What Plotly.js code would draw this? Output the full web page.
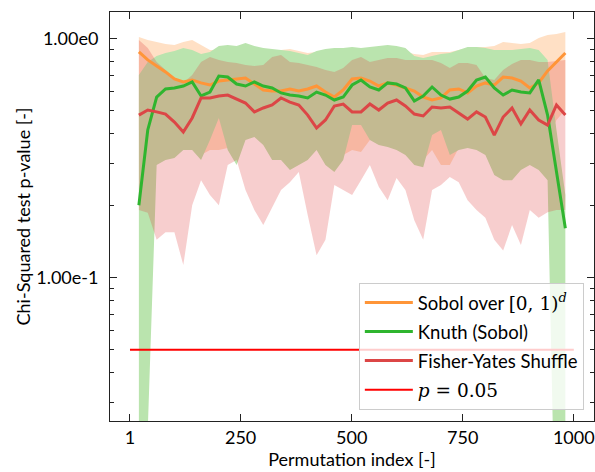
<!DOCTYPE html>
<html>
<head>
<meta charset="utf-8">
<script src="https://cdn.plot.ly/plotly-3.0.1.min.js"></script>
<style>
  html, body { margin: 0; padding: 0; background: #ffffff; }
  #chart { width: 595px; height: 472px; }
</style>
</head>
<body>
<div id="chart"></div>
<script>
// Permutation index (window centres)
const permIndex = [21, 41, 61, 81, 101, 121, 141, 161, 181, 201, 221, 241, 261, 281, 301, 321, 341,
  361, 381, 401, 421, 441, 461, 481, 501, 521, 541, 561, 581, 601, 621, 641, 661, 681, 701, 721,
  741, 761, 781, 801, 821, 841, 861, 881, 901, 921, 941, 961, 981];

// Sobol over [0,1)^d : mean p-value and band
const sobolMean = [0.880, 0.815, 0.769, 0.726, 0.678, 0.659, 0.672, 0.653, 0.640, 0.665, 0.672, 0.678,
  0.685, 0.646, 0.610, 0.604, 0.604, 0.616, 0.604, 0.616, 0.634, 0.598, 0.570, 0.610, 0.678, 0.685,
  0.665, 0.634, 0.653, 0.640, 0.622, 0.604, 0.570, 0.554, 0.565, 0.610, 0.616, 0.593, 0.634, 0.653,
  0.640, 0.691, 0.685, 0.665, 0.622, 0.653, 0.733, 0.799, 0.871];
const sobolHi = [1.016, 0.988, 0.969, 0.950, 0.941, 0.969, 0.988, 0.941, 0.897, 0.897, 0.906, 0.897,
  0.914, 0.897, 0.880, 0.880, 0.897, 0.906, 0.888, 0.871, 0.880, 0.880, 0.871, 0.880, 0.888, 0.897,
  0.897, 0.880, 0.897, 0.897, 0.880, 0.863, 0.855, 0.880, 0.880, 0.880, 0.897, 0.914, 0.923, 0.923,
  0.932, 0.969, 0.959, 0.950, 0.959, 1.007, 1.036, 1.046, 1.067];
const sobolLo = [0.415, 0.377, 0.311, 0.326, 0.342, 0.349, 0.359, 0.326, 0.342, 0.342, 0.349, 0.311,
  0.395, 0.395, 0.377, 0.342, 0.326, 0.311, 0.317, 0.326, 0.349, 0.311, 0.296, 0.326, 0.342, 0.336,
  0.377, 0.377, 0.359, 0.349, 0.342, 0.311, 0.311, 0.342, 0.296, 0.296, 0.349, 0.359, 0.359, 0.342,
  0.282, 0.269, 0.269, 0.296, 0.311, 0.311, 0.377, 0.457, 0.503];

// Knuth (Sobol)
const knuthMean = [0.201, 0.415, 0.570, 0.616, 0.622, 0.634, 0.659, 0.576, 0.598, 0.698, 0.691, 0.646,
  0.634, 0.659, 0.634, 0.622, 0.593, 0.581, 0.576, 0.565, 0.598, 0.581, 0.554, 0.570, 0.640, 0.672,
  0.628, 0.610, 0.653, 0.646, 0.622, 0.549, 0.576, 0.628, 0.581, 0.559, 0.570, 0.604, 0.672, 0.691,
  0.622, 0.581, 0.610, 0.598, 0.593, 0.672, 0.479, 0.282, 0.161];
const knuthHi = [0.705, 0.799, 0.846, 0.871, 0.888, 0.914, 0.897, 0.863, 0.880, 0.932, 0.941, 0.932,
  0.959, 0.932, 0.914, 0.906, 0.897, 0.888, 0.871, 0.855, 0.888, 0.906, 0.914, 0.914, 0.923, 0.914,
  0.923, 0.932, 0.941, 0.932, 0.914, 0.846, 0.830, 0.846, 0.863, 0.871, 0.897, 0.923, 0.923, 0.914,
  0.897, 0.897, 0.897, 0.906, 0.914, 0.897, 0.815, 0.415, 0.222];
const knuthLo = [0.0097, 0.0231, 0.296, 0.311, 0.317, 0.342, 0.342, 0.311, 0.377, 0.466, 0.342, 0.296,
  0.377, 0.388, 0.359, 0.311, 0.311, 0.282, 0.296, 0.311, 0.342, 0.296, 0.277, 0.311, 0.435, 0.435,
  0.377, 0.359, 0.352, 0.342, 0.326, 0.296, 0.290, 0.395, 0.415, 0.326, 0.342, 0.349, 0.342, 0.326,
  0.269, 0.256, 0.256, 0.282, 0.296, 0.282, 0.256, 0.0045, 0.0037];

// Fisher-Yates Shuffle
const fyMean = [0.479, 0.503, 0.494, 0.484, 0.448, 0.407, 0.466, 0.565, 0.565, 0.576, 0.581, 0.559,
  0.538, 0.494, 0.513, 0.528, 0.565, 0.543, 0.528, 0.479, 0.423, 0.457, 0.523, 0.533, 0.494, 0.494,
  0.533, 0.503, 0.538, 0.554, 0.523, 0.484, 0.475, 0.518, 0.513, 0.518, 0.489, 0.461, 0.494, 0.470,
  0.395, 0.470, 0.513, 0.440, 0.503, 0.457, 0.435, 0.528, 0.479];
const fyHi = [0.988, 0.914, 0.799, 0.740, 0.685, 0.653, 0.705, 0.799, 0.838, 0.815, 0.799, 0.791,
  0.776, 0.769, 0.776, 0.838, 0.855, 0.799, 0.791, 0.776, 0.761, 0.740, 0.726, 0.754, 0.815, 0.838,
  0.799, 0.815, 0.830, 0.830, 0.815, 0.815, 0.815, 0.815, 0.791, 0.754, 0.791, 0.791, 0.776, 0.685,
  0.672, 0.740, 0.784, 0.815, 0.815, 0.799, 0.799, 0.807, 0.815];
const fyLo = [0.192, 0.187, 0.144, 0.155, 0.155, 0.113, 0.201, 0.256, 0.222, 0.201, 0.296, 0.311,
  0.233, 0.192, 0.166, 0.198, 0.233, 0.251, 0.277, 0.183, 0.124, 0.144, 0.244, 0.233, 0.222, 0.256,
  0.296, 0.240, 0.211, 0.261, 0.233, 0.174, 0.144, 0.233, 0.244, 0.264, 0.251, 0.211, 0.192, 0.178,
  0.144, 0.130, 0.166, 0.137, 0.192, 0.178, 0.188, 0.192, 0.192];

// Significance threshold
const pLevel = 0.05;
const pLineX = [1, 1000];

// Axis ticks
const xTicks = [1, 250, 500, 750, 1000];
const yTicks = [0.1, 1];
const yTickText = ['1.00e-1', '1.00e0'];
const yMinorTicks = [0.03, 0.04, 0.05, 0.06, 0.07, 0.08, 0.09, 0.2, 0.3, 0.4, 0.5, 0.6, 0.7, 0.8, 0.9];

const FONT = 'Lato, "DejaVu Sans", sans-serif';
const MATH = "'DejaVu Serif', 'Liberation Serif', serif";
const FS = 18;

function band(lo, hi, fillcolor) {
  return [
    { x: permIndex, y: lo, mode: 'lines', line: { width: 0 }, showlegend: false, hoverinfo: 'skip' },
    { x: permIndex, y: hi, mode: 'lines', line: { width: 0 }, fill: 'tonexty', fillcolor: fillcolor,
      showlegend: false, hoverinfo: 'skip' }
  ];
}

const traces = [].concat(
  band(sobolLo, sobolHi, 'rgba(255,127,14,0.24)'),
  band(knuthLo, knuthHi, 'rgb(186,228,174)'),
  band(fyLo, fyHi, 'rgba(222,60,60,0.25)'),
  [
    { x: permIndex, y: sobolMean, mode: 'lines',
      name: 'Sobol over <span style="font-family:' + MATH + '">[0, 1)<sup><i>d</i></sup></span>',
      line: { color: '#ff9538', width: 3 }, legendgroup: 'a' },
    { x: permIndex, y: knuthMean, mode: 'lines', name: 'Knuth (Sobol)',
      line: { color: '#2fb52f', width: 3 }, legendgroup: 'b' },
    { x: permIndex, y: fyMean, mode: 'lines', name: 'Fisher-Yates Shuffle',
      line: { color: '#dc4646', width: 3 }, legendgroup: 'c' },
    { x: pLineX, y: pLineX.map(() => pLevel), mode: 'lines',
      name: '<span style="font-family:' + MATH + '"><i>p</i> = 0.05</span>',
      line: { color: '#ff0000', width: 2 }, legendgroup: 'd' }
  ]
);

const axisCommon = {
  showline: true, linecolor: '#222', linewidth: 1, mirror: 'ticks',
  ticks: 'inside', ticklen: 7, tickwidth: 1, tickcolor: '#222',
  showgrid: false, zeroline: false,
  tickfont: { family: FONT, size: FS, color: '#000' }
};

const layout = {
  width: 595, height: 472,
  margin: { l: 110, r: 1, t: 12, b: 51 },
  paper_bgcolor: '#ffffff', plot_bgcolor: '#ffffff',
  font: { family: FONT, size: FS, color: '#000' },
  xaxis: Object.assign({}, axisCommon, {
    range: [-44, 1045.5],
    tickmode: 'array', tickvals: xTicks, ticktext: xTicks.map(String),
    title: { text: 'Permutation index [-]', font: { family: FONT, size: FS, color: '#000' }, standoff: 4 }
  }),
  yaxis: Object.assign({}, axisCommon, {
    type: 'log',
    range: [-1.5996, 0.1117],
    tickmode: 'array', tickvals: yTicks, ticktext: yTickText,
    ticklabelstandoff: 7,
    minor: { tickmode: 'array', tickvals: yMinorTicks, ticks: 'inside', ticklen: 4, tickwidth: 1, tickcolor: '#222' },
    title: { text: 'Chi-Squared test p-value [-]', font: { family: FONT, size: FS, color: '#000' }, standoff: 0 }
  }),
  showlegend: true,
  legend: {
    x: 0.979, xanchor: 'right', y: 0.027, yanchor: 'bottom',
    bgcolor: 'rgba(255,255,255,0.8)', bordercolor: '#cccccc', borderwidth: 1,
    font: { family: FONT, size: 18.5, color: '#000' },
    tracegroupgap: 2, itemwidth: 48
  }
};

Plotly.newPlot('chart', traces, layout, { staticPlot: true, displayModeBar: false });
</script>
</body>
</html>
